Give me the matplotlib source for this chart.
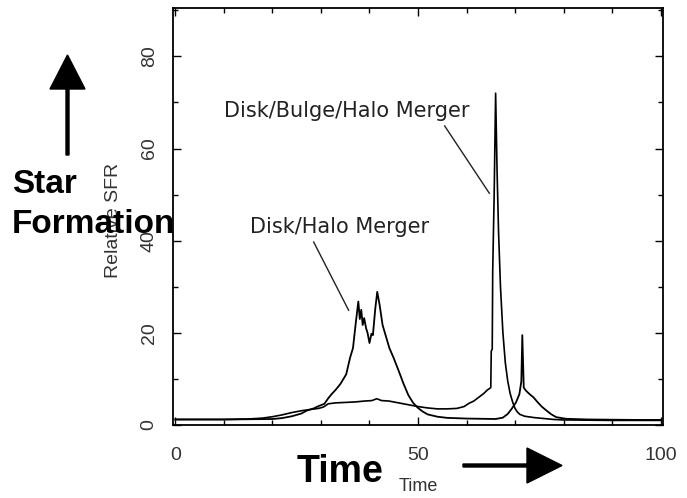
import matplotlib
matplotlib.use("Agg")
import matplotlib.pyplot as plt
from matplotlib.patches import FancyArrow
from matplotlib.ticker import MultipleLocator

# Relative star formation rate vs. time for two merger simulations
disk_halo_time = [0, 5, 10, 15, 20, 22, 24, 26, 27, 28.5, 29.5, 30.7, 31.5, 32.2,
                  33.0, 34.0, 35.2, 36.0, 36.6, 37.2, 37.7, 38.0, 38.3, 38.6, 38.9,
                  39.3, 39.6, 40.0, 40.4, 40.7, 41.2, 41.6, 42.1, 42.7, 44.1, 45.0,
                  46.0, 47.0, 48.0, 49.0, 50.0, 51.0, 52.0, 54.0, 56.0, 60.0, 66.0,
                  67.5, 68.5, 69.3, 70.2, 70.9, 71.3, 71.5, 71.8, 72.3, 73.0, 73.8,
                  74.7, 75.5, 76.4, 77.5, 78.5, 80.5, 85, 90, 95, 100]
disk_halo_sfr = [1.2, 1.2, 1.2, 1.25, 1.3, 1.5, 1.9, 2.5, 3.1, 3.6, 4.1, 4.6, 5.8, 6.7,
                 7.6, 8.9, 11.0, 14.6, 16.7, 22.4, 26.8, 23.0, 25.0, 21.7, 23.2,
                 21.0, 20.0, 17.8, 19.8, 19.5, 25.3, 28.9, 26.0, 21.7, 16.7, 14.5,
                 11.8, 9.0, 6.5, 4.8, 3.7, 2.9, 2.3, 1.8, 1.55, 1.4, 1.3,
                 1.6, 2.4, 3.5, 4.9, 6.7, 9.5, 19.5, 8.1, 7.4, 6.7, 6.0,
                 4.9, 4.0, 3.2, 2.3, 1.7, 1.35, 1.2, 1.15, 1.1, 1.1]

disk_bulge_halo_time = [0, 5, 10, 15, 18, 20, 22, 24, 26, 28, 29.5, 30.5, 31.5, 33,
                        35, 37, 39, 40.5, 41.5, 42.5, 44, 46, 48, 50, 52, 54, 56,
                        58, 59.5, 60.5, 61.5, 62.5, 63.5, 64.3, 65.0, 65.1, 65.3,
                        65.4, 65.7, 66.0, 66.3, 66.6, 67.0, 67.5, 68.0, 68.5, 69.0,
                        69.5, 70.0, 70.5, 71.0, 72.0, 74.0, 76.0, 78.0, 80, 85, 90,
                        95, 100]
disk_bulge_halo_sfr = [1.2, 1.2, 1.2, 1.3, 1.5, 1.8, 2.2, 2.7, 3.1, 3.4, 3.6, 3.9, 4.6,
                       4.8, 4.9, 5.0, 5.2, 5.3, 5.7, 5.3, 5.2, 4.8, 4.4, 4.0, 3.7,
                       3.5, 3.5, 3.6, 4.0, 4.7, 5.2, 6.0, 6.8, 7.6, 8.1, 16.0, 16.5,
                       33.5, 50.0, 72.0, 55.0, 42.0, 30.0, 20.0, 13.5, 9.5, 6.8,
                       5.0, 3.6, 2.8, 2.3, 1.9, 1.6, 1.4, 1.2, 1.1, 1.05, 1.0,
                       1.0, 1.0]

x_ticks = [0, 50, 100]
y_ticks = [0, 20, 40, 60, 80]

fig = plt.figure(figsize=(6.87, 4.98), dpi=100)
ax = fig.add_axes([173 / 687, 1 - 425 / 498, 490 / 687, 417 / 498])

ax.plot(disk_halo_time, disk_halo_sfr, color="black", lw=1.3)
ax.plot(disk_bulge_halo_time, disk_bulge_halo_sfr, color="black", lw=1.2)

ax.set_xlim(-0.5, 100.5)
ax.set_ylim(0.6, 90.5)
ax.set_xticks(x_ticks)
ax.set_yticks(y_ticks)
ax.xaxis.set_minor_locator(MultipleLocator(10))
ax.yaxis.set_minor_locator(MultipleLocator(10))
ax.tick_params(which="both", direction="in", top=True, right=True, width=1,
               colors="black", labelcolor="#333333")
ax.tick_params(which="major", length=6)
ax.tick_params(which="minor", length=3.5)
ax.tick_params(axis="x", pad=16, labelsize=14)
ax.tick_params(axis="y", pad=11, labelsize=14, labelrotation=90)
for lbl in ax.get_yticklabels():
    lbl.set_verticalalignment("center")
for lbl in ax.get_xticklabels() + ax.get_yticklabels():
    lbl.set_family("Liberation Sans")
for sp in ax.spines.values():
    sp.set_linewidth(1.3)

ax.set_xlabel("Time", fontsize=13, family="Liberation Sans", color="#333333")
ax.set_ylabel("Relative SFR", fontsize=14, family="Liberation Sans", color="#333333")
ax.xaxis.set_label_coords(0.5, -0.128)
ax.yaxis.set_label_coords(-0.105, 0.49)

# merger labels with leader lines
ann_style = dict(fontsize=15, family="DejaVu Sans", color="#222222", va="center", ha="left")
ax.text(10.1, 68.1, "Disk/Bulge/Halo Merger", **ann_style)
ax.plot([55.5, 64.7], [64.9, 50.3], color="#222222", lw=1.0)
ax.text(15.3, 43.0, "Disk/Halo Merger", **ann_style)
ax.plot([28.5, 35.7], [39.7, 24.9], color="#222222", lw=1.0)

# overlay in pixel coordinates for the bold labels and arrows
ov = fig.add_axes([0, 0, 1, 1], zorder=10)
ov.set_xlim(0, 687)
ov.set_ylim(498, 0)
ov.axis("off")
ov.patch.set_alpha(0)

bold = dict(family="Liberation Sans", fontweight="bold", color="black", ha="left", va="baseline")
ov.text(12, 193, "Star", fontsize=24, **bold)
ov.text(12, 233, "Formation", fontsize=24, **bold)
ov.text(297, 482, "Time", fontsize=27, **bold)

ov.add_patch(FancyArrow(67.5, 155, 0, -100, width=3, head_width=35, head_length=34,
                        length_includes_head=True, color="black"))
ov.add_patch(FancyArrow(463, 465.5, 99, 0, width=3, head_width=35, head_length=35,
                        length_includes_head=True, color="black"))

fig.savefig("out.png", dpi=100)
